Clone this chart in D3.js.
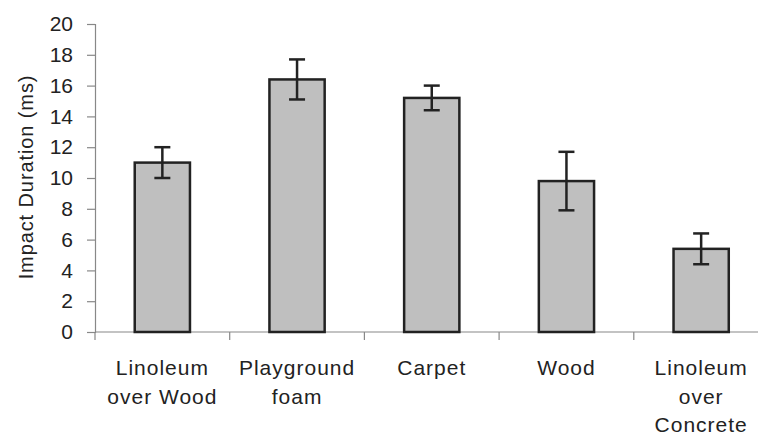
<!DOCTYPE html>
<html>
<head>
<meta charset="utf-8">
<script src="https://cdn.jsdelivr.net/npm/d3@7"></script>
<style>
body { margin: 0; background: #fff; }
text { font-family: "Liberation Sans", Arial, sans-serif; fill: #222; }
</style>
</head>
<body>
<div id="chart"></div>
<script>
var categories = [
	["Linoleum", "over Wood"],
	["Playground", "foam"],
	["Carpet"],
	["Wood"],
	["Linoleum", "over", "Concrete"]
];
var means = [11.0, 16.4, 15.2, 9.8, 5.4];
var errors = [1.0, 1.3, 0.8, 1.9, 1.0];
var yTicks = [0, 2, 4, 6, 8, 10, 12, 14, 16, 18, 20];

var width = 758;
var height = 438;
var plotLeft = 95, plotTop = 24, plotBottom = 332;

var svg = d3.select("#chart")
	.append("svg")
	.attr("width", width)
	.attr("height", height);

var x = d3.scaleBand()
	.domain(d3.range(categories.length))
	.range([plotLeft, plotLeft + 5 * 134.7])
	.paddingInner(0.59)
	.paddingOuter(0.295);

var y = d3.scaleLinear()
	.domain([0, 20])
	.range([plotBottom, plotTop]);

// y axis
var yAxis = svg.append("g")
	.attr("transform", "translate(" + plotLeft + ",0)")
	.call(d3.axisLeft(y).tickValues(yTicks).tickSize(8).tickPadding(14));
yAxis.select(".domain").attr("stroke", "#888").attr("stroke-width", 1.2);
yAxis.selectAll(".tick line").attr("stroke", "#888").attr("stroke-width", 1.2);
yAxis.selectAll(".tick text")
	.style("font-size", "21px")
	.attr("fill", "#222");

// x axis line with ticks at band boundaries
var step = x.step();
var bounds = d3.range(categories.length + 1).map(function (i) { return plotLeft + i * step; });
svg.append("line")
	.attr("x1", plotLeft).attr("x2", width)
	.attr("y1", plotBottom).attr("y2", plotBottom)
	.attr("stroke", "#888").attr("stroke-width", 1.2);
svg.selectAll(".xtick")
	.data(bounds)
	.enter().append("line")
	.attr("class", "xtick")
	.attr("x1", function (d) { return d; })
	.attr("x2", function (d) { return d; })
	.attr("y1", plotBottom)
	.attr("y2", plotBottom + 8)
	.attr("stroke", "#888").attr("stroke-width", 1.2);

// bars
svg.selectAll(".bar")
	.data(means)
	.enter().append("rect")
	.attr("class", "bar")
	.attr("x", function (d, i) { return x(i); })
	.attr("y", function (d) { return y(d); })
	.attr("width", x.bandwidth())
	.attr("height", function (d) { return y(0) - y(d); })
	.attr("fill", "#bfbfbf")
	.attr("stroke", "#222")
	.attr("stroke-width", 2.5);

// error bars
var err = svg.selectAll(".err")
	.data(means)
	.enter().append("g")
	.attr("class", "err")
	.attr("transform", function (d, i) { return "translate(" + (x(i) + x.bandwidth() / 2) + ",0)"; });
err.append("line")
	.attr("x1", 0).attr("x2", 0)
	.attr("y1", function (d, i) { return y(d + errors[i]); })
	.attr("y2", function (d, i) { return y(d - errors[i]); })
	.attr("stroke", "#222").attr("stroke-width", 2.5);
err.append("line")
	.attr("x1", -8).attr("x2", 8)
	.attr("y1", function (d, i) { return y(d + errors[i]); })
	.attr("y2", function (d, i) { return y(d + errors[i]); })
	.attr("stroke", "#222").attr("stroke-width", 2.5);
err.append("line")
	.attr("x1", -8).attr("x2", 8)
	.attr("y1", function (d, i) { return y(d - errors[i]); })
	.attr("y2", function (d, i) { return y(d - errors[i]); })
	.attr("stroke", "#222").attr("stroke-width", 2.5);

// category labels
var labels = svg.selectAll(".cat")
	.data(categories)
	.enter().append("text")
	.attr("class", "cat")
	.attr("text-anchor", "middle")
	.style("font-size", "21px")
	.style("letter-spacing", "1px")
	.attr("transform", function (d, i) { return "translate(" + (x(i) + x.bandwidth() / 2) + ",375)"; });
labels.selectAll("tspan")
	.data(function (d) { return d; })
	.enter().append("tspan")
	.attr("x", 0)
	.attr("y", function (d, i) { return i * 28.5; })
	.text(function (d) { return d; });

// axis title
svg.append("text")
	.attr("transform", "translate(33,177) rotate(-90)")
	.attr("text-anchor", "middle")
	.style("font-size", "20px")
	.style("letter-spacing", "0.9px")
	.text("Impact Duration (ms)");
</script>
</body>
</html>
